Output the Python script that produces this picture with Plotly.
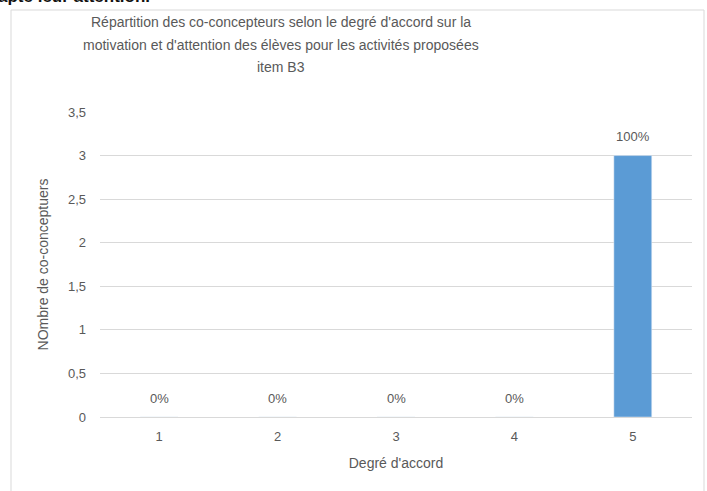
import plotly.graph_objects as go

categories = ["1", "2", "3", "4", "5"]
counts = [0, 0, 0, 0, 3]
percent_labels = ["0%", "0%", "0%", "0%", "100%"]
y_ticks = [0, 0.5, 1, 1.5, 2, 2.5, 3, 3.5]
title_lines = [
    "Répartition des co-concepteurs selon le degré d'accord sur la",
    "motivation et d'attention des élèves pour les activités proposées",
    "item B3",
]

W, H = 707, 491
L, R, T, B = 100, 15, 112, 74
pw, ph = W - L - R, H - T - B

def px_x(x):
    return (x - L) / pw

def px_y(y):
    return (H - B - y) / ph

gray = "#595959"
font = "Liberation Sans, Arial, sans-serif"

fig = go.Figure(go.Bar(
    x=categories, y=counts,
    marker=dict(color="#5b9bd5"), width=0.32, hoverinfo="skip",
))

annotations = []
for i, (v, t) in enumerate(zip(counts, percent_labels)):
    annotations.append(dict(
        x=i, y=v, xref="x", yref="y", text=t, showarrow=False,
        yanchor="middle", yshift=19,
        font=dict(size=13, color=gray, family=font),
    ))
for i, line in enumerate(title_lines):
    annotations.append(dict(
        text=line, xref="paper", yref="paper",
        x=px_x(281), y=px_y(22 + 22.5 * i),
        xanchor="center", yanchor="middle", showarrow=False,
        font=dict(size=14, color=gray, family=font),
    ))
annotations.append(dict(
    text="<b>apte leur attention.</b>",
    xref="paper", yref="paper", x=px_x(-4), y=px_y(-15),
    xanchor="left", yanchor="top", showarrow=False,
    font=dict(size=17, color="#111111", family=font),
))

fig.update_layout(
    width=W, height=H,
    margin=dict(l=L, r=R, t=T, b=B, autoexpand=False),
    paper_bgcolor="white", plot_bgcolor="white",
    separators=", ",
    showlegend=False,
    font=dict(family=font, color=gray),
    xaxis=dict(
        type="category", range=[-0.5, len(categories) - 0.5],
        showgrid=False, ticks="", showline=False, automargin=False,
        tickfont=dict(size=13, color=gray), ticklabelstandoff=10,
        title=dict(text="Degré d'accord", font=dict(size=14, color=gray), standoff=15),
    ),
    yaxis=dict(
        range=[0, 3.5], tickvals=y_ticks, showgrid=True, gridcolor="#d9d9d9",
        zeroline=True, zerolinecolor="#d9d9d9", zerolinewidth=1, automargin=False,
        tickfont=dict(size=13, color=gray), ticklabelstandoff=13,
        title=dict(text="NOmbre de co-conceptuers", font=dict(size=14, color=gray), standoff=16),
    ),
    shapes=[dict(
        type="rect", xref="paper", yref="paper",
        x0=px_x(11), x1=px_x(704), y0=px_y(495), y1=px_y(10),
        line=dict(color="#d9d9d9", width=1), fillcolor="rgba(0,0,0,0)", layer="below",
    )],
    annotations=annotations,
)

fig.write_html("out.html", config={"displayModeBar": False},
               post_script="document.body.style.margin='0';")
